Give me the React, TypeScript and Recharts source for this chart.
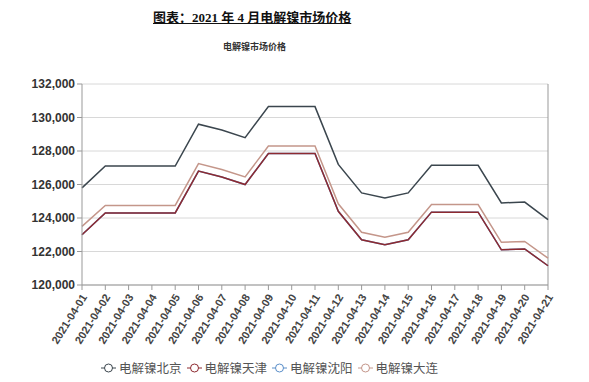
import React from 'react';
import { LineChart, Line, XAxis, YAxis, CartesianGrid, ReferenceLine } from 'recharts';

const dates = [
  '2021-04-01', '2021-04-02', '2021-04-03', '2021-04-04', '2021-04-05', '2021-04-06', '2021-04-07',
  '2021-04-08', '2021-04-09', '2021-04-10', '2021-04-11', '2021-04-12', '2021-04-13', '2021-04-14',
  '2021-04-15', '2021-04-16', '2021-04-17', '2021-04-18', '2021-04-19', '2021-04-20', '2021-04-21',
];
const beijing = [125800, 127100, 127100, 127100, 127100, 129600, 129250, 128800, 130650, 130650, 130650, 127200, 125500, 125200, 125500, 127150, 127150, 127150, 124900, 124950, 123900];
const tianjin = [123000, 124300, 124300, 124300, 124300, 126800, 126450, 126000, 127850, 127850, 127850, 124400, 122700, 122400, 122700, 124350, 124350, 124350, 122100, 122150, 121150];
const shenyang = [123000, 124300, 124300, 124300, 124300, 126800, 126450, 126000, 127850, 127850, 127850, 124400, 122700, 122400, 122700, 124350, 124350, 124350, 122100, 122150, 121150];
const dalian = [123500, 124750, 124750, 124750, 124750, 127250, 126900, 126450, 128300, 128300, 128300, 124850, 123150, 122850, 123150, 124800, 124800, 124800, 122550, 122600, 121600];
const yTicks = [120000, 122000, 124000, 126000, 128000, 130000, 132000];

const seriesNames = ['电解镍北京', '电解镍天津', '电解镍沈阳', '电解镍大连'];
const seriesColors = ['#3b464e', '#8e2a30', '#5b8fc9', '#c4968a'];

const data = dates.map((d, i) => ({
  date: d,
  beijing: beijing[i],
  shenyang: shenyang[i],
  tianjin: tianjin[i],
  dalian: dalian[i],
}));

const XTick = (props: any) => {
  const { x, y, payload } = props;
  return (
    <g transform={`translate(${x + 2},${y + 3})`}>
      <text
        transform="rotate(-58)"
        textAnchor="end"
        dy={4}
        fontSize={11}
        fontWeight="bold"
        fontFamily="Arial, 'Liberation Sans', sans-serif"
        fill="#444"
      >
        {payload.value}
      </text>
    </g>
  );
};

const LegendContent = () => (
  <div
    style={{
      position: 'absolute',
      left: 101,
      top: 358,
      display: 'flex',
      gap: 5,
      fontFamily: "'Liberation Serif', 'Noto Sans CJK SC', serif",
      fontSize: 12.5,
      color: '#555',
      whiteSpace: 'nowrap',
    }}
  >
    {seriesNames.map((n, i) => (
      <div key={n} style={{ display: 'flex', alignItems: 'center' }}>
        <svg width={15} height={12} style={{ marginRight: 3 }}>
          <line x1={0} y1={6} x2={15} y2={6} stroke={seriesColors[i]} strokeWidth={1} />
          <circle cx={7.5} cy={6} r={4} fill="#fff" stroke={seriesColors[i]} strokeWidth={1} />
        </svg>
        <span>{n}</span>
      </div>
    ))}
  </div>
);

export default function App() {
  return (
    <div style={{ position: 'absolute', left: 0, top: 0, width: 589, height: 382, background: '#fff' }}>
      <div
        style={{
          position: 'absolute',
          left: 153,
          top: 7,
          whiteSpace: 'nowrap',
          fontFamily: "'Liberation Serif', 'Noto Sans CJK SC', serif",
          fontWeight: 'bold',
          fontSize: 13,
          textDecoration: 'underline',
          color: '#111',
        }}
      >
        图表：2021 年 4 月电解镍市场价格
      </div>
      <div
        style={{
          position: 'absolute',
          left: 223,
          top: 40,
          whiteSpace: 'nowrap',
          fontFamily: "'Noto Sans CJK SC', sans-serif",
          fontWeight: 'bold',
          fontSize: 9,
          color: '#333',
        }}
      >
        电解镍市场价格
      </div>
      <div style={{ position: 'absolute', left: 0, top: 0 }}>
        <LineChart width={589} height={382} data={data} margin={{ top: 84, right: 41, left: 0, bottom: 0 }}>
          <CartesianGrid vertical={false} stroke="#d8d8d8" />
          <XAxis
            dataKey="date"
            interval={0}
            height={97}
            tick={<XTick />}
            tickLine={{ stroke: '#999' }}
            axisLine={{ stroke: '#999' }}
            tickSize={5}
          />
          <YAxis
            domain={[120000, 132000]}
            ticks={yTicks}
            width={82}
            tickFormatter={(v: number) => v.toLocaleString('en-US')}
            tick={{ fontSize: 12, fontWeight: 'bold', fill: '#333', fontFamily: "Arial, 'Liberation Sans', sans-serif" }}
            tickLine={{ stroke: '#999' }}
            axisLine={{ stroke: '#999' }}
            tickSize={5}
          />
          <ReferenceLine x="2021-04-21" stroke="#999" />
          <Line type="linear" dataKey="beijing" name={seriesNames[0]} stroke={seriesColors[0]} strokeWidth={1.5} dot={false} isAnimationActive={false} />
          <Line type="linear" dataKey="shenyang" name={seriesNames[2]} stroke={seriesColors[2]} strokeWidth={1.5} dot={false} isAnimationActive={false} />
          <Line type="linear" dataKey="tianjin" name={seriesNames[1]} stroke={seriesColors[1]} strokeWidth={1.5} dot={false} isAnimationActive={false} />
          <Line type="linear" dataKey="dalian" name={seriesNames[3]} stroke={seriesColors[3]} strokeWidth={1.5} dot={false} isAnimationActive={false} />
        </LineChart>
      </div>
      <LegendContent />
    </div>
  );
}
